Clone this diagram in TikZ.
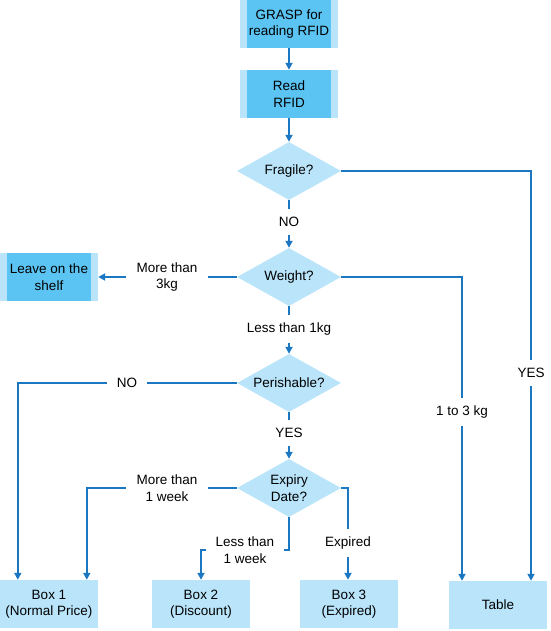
\documentclass[tikz,border=0pt]{standalone}
\usepackage{fontspec}
\setmainfont{Liberation Sans}
\usetikzlibrary{arrows.meta,shapes.geometric}
\definecolor{lightb}{HTML}{B9E4FA}
\definecolor{darkb}{HTML}{5BC4F3}
\definecolor{lineb}{HTML}{1C77C3}
\begin{document}
\begin{tikzpicture}[x=1pt,y=-1pt,font=\fontsize{13.5}{16.5}\selectfont,
  procbox/.style={fill=lightb,minimum width=98pt,minimum height=48pt,inner sep=0pt,align=center,
    path picture={\fill[darkb] ([xshift=7pt]path picture bounding box.south west) rectangle ([xshift=-7pt]path picture bounding box.north east);}},
  outbox/.style={fill=lightb,minimum width=98pt,minimum height=48pt,inner sep=0pt,align=center},
  decision/.style={diamond,fill=lightb,aspect=1.8,minimum width=104pt,minimum height=58pt,inner sep=0pt,align=center},
  lbl/.style={inner xsep=10pt,inner ysep=8pt,align=center},
  conn/.style={draw=lineb,line width=1.8pt},
  arr/.style={conn,-{Triangle[length=7pt,width=7pt]}}]
\useasboundingbox (0,0) rectangle (550,631);
% boxes
\node[procbox] (grasp) at (289,24) {GRASP for\\reading RFID};
\node[procbox] (read) at (289,94) {Read\\RFID};
\node[procbox] (leave) at (49,277) {Leave on the\\shelf};
\node[decision] (fragile) at (289,171) {Fragile?};
\node[decision] (weight) at (289,277) {Weight?};
\node[decision] (perish) at (289,383) {Perishable?};
\node[decision] (expiry) at (289,488) {Expiry\\Date?};
\node[outbox] (box1) at (49,604) {Box 1\\(Normal Price)};
\node[outbox] (box2) at (201,604) {Box 2\\(Discount)};
\node[outbox] (box3) at (349,604) {Box 3\\(Expired)};
\node[outbox] (table) at (498,605) {Table};
% labels
\node[lbl] (yesF) at (531,373) {YES};
\node[lbl] (noF) at (289,222) {NO};
\node[lbl] (more3) at (167,277) {More than\\3kg};
\node[lbl] (w13) at (462,412) {1 to 3 kg};
\node[lbl] (less1kg) at (289,329) {Less than 1kg};
\node[lbl] (noP) at (127,383) {NO};
\node[lbl] (yesP) at (289,433) {YES};
\node[lbl] (more1w) at (167,488) {More than\\1 week};
\node[lbl] (less1w) at (245,550) {Less than\\1 week};
\node[lbl] (expired) at (348,543) {Expired};
% anchor points on box tops
\coordinate (b1a) at ([xshift=18pt]box1.north west);
\coordinate (b1b) at ([xshift=87pt]box1.north west);
% connectors
\draw[arr] (grasp) -- (read);
\draw[arr] (read) -- (fragile);
\draw[conn] (fragile.east) -| (yesF.north);
\draw[arr] (yesF.south) -- (yesF.south |- table.north);
\draw[conn] (fragile.south) -- (noF.north);
\draw[arr] (noF.south) -- (weight.north);
\draw[conn] (weight.west) -- (more3.east);
\draw[arr] (more3.west) -- (leave.east);
\draw[conn] (weight.east) -| (w13.north);
\draw[arr] (w13.south) -- (w13.south |- table.north);
\draw[conn] (weight.south) -- (less1kg.north);
\draw[arr] (less1kg.south) -- (perish.north);
\draw[conn] (perish.west) -- (noP.east);
\draw[arr] (noP.west) -| (b1a);
\draw[conn] (perish.south) -- (yesP.north);
\draw[arr] (yesP.south) -- (expiry.north);
\draw[conn] (expiry.west) -- (more1w.east);
\draw[arr] (more1w.west) -| (b1b);
\draw[conn] (expiry.south) |- (less1w.east);
\draw[arr] (less1w.west) -| (box2.north);
\draw[conn] (expiry.east) -| (expired.north);
\draw[arr] (expired.south) -- (expired.south |- box3.north);
\end{tikzpicture}
\end{document}
